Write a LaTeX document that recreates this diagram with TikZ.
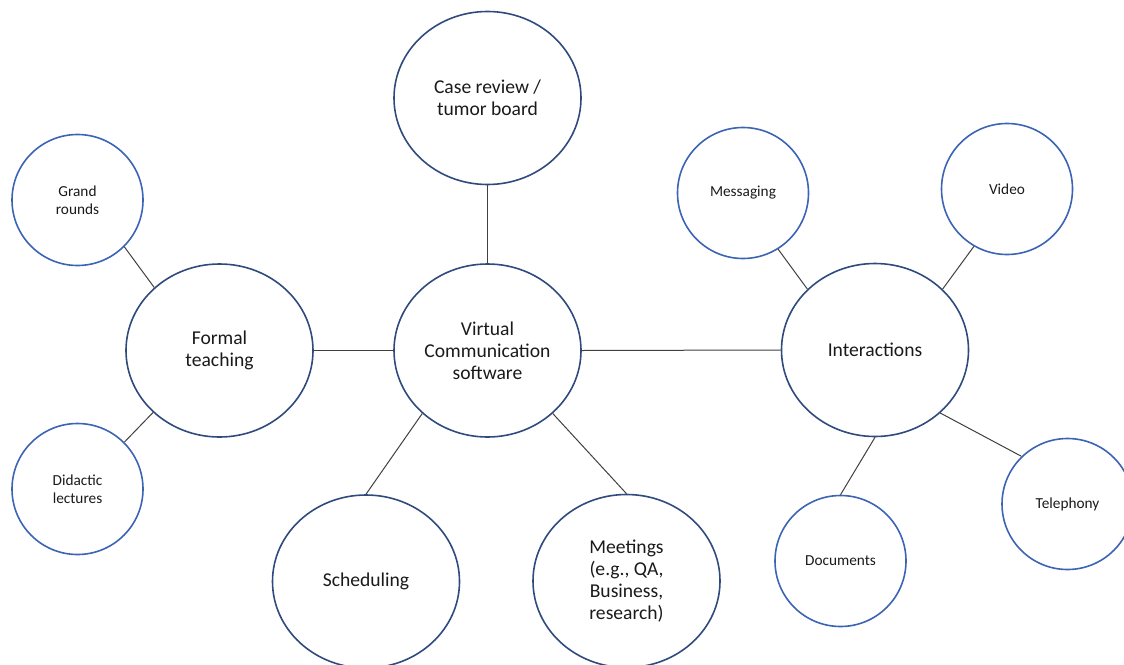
\documentclass[tikz,border=0pt]{standalone}
\usepackage{fontspec}
\setmainfont{Carlito}
\usetikzlibrary{shapes.geometric}
\definecolor{navyline}{HTML}{2F4B7E}
\definecolor{blueline}{HTML}{3C64B4}
\definecolor{linkgray}{HTML}{404040}
\definecolor{textdark}{HTML}{1A1A1A}
\tikzset{
  bigbubble/.style={ellipse, draw=navyline, line width=1.6pt, minimum width=187pt,
    minimum height=173pt, inner sep=0pt, align=center, text=textdark,
    font=\fontsize{19.6}{22}\selectfont},
  smallbubble/.style={circle, draw=blueline, line width=1.6pt, minimum size=131pt,
    inner sep=0pt, align=center, text=textdark, font=\fontsize{15.3}{18}\selectfont},
  link/.style={draw=linkgray, line width=1pt}
}
\begin{document}
\begin{tikzpicture}[x=1pt,y=-1pt]
                % Fix the page to the reference size
                \useasboundingbox (0,0) rectangle (1124,664);
                \clip (0,0) rectangle (1124,664);
                % Draw the large bubbles
                \node[bigbubble] (vcs) at (487.5,350.5) {Virtual\\Communication\\software};
                \node[bigbubble] (case) at (487.5,98) {Case review /\\tumor board};
                \node[bigbubble] (formal) at (219.5,350.5) {Formal\\teaching};
                \node[bigbubble] (inter) at (875,350) {Interactions};
                \node[bigbubble] (sched) at (366,581.5) {Scheduling};
                \node[bigbubble] (meet) at (626.5,581) {Meetings\\(e.g., QA,\\Business,\\research)};
                % Draw the small bubbles
                \node[smallbubble] (grand) at (77.5,200) {Grand\\rounds};
                \node[smallbubble] (didactic) at (77.5,489) {Didactic\\lectures};
                \node[smallbubble] (msg) at (743,193) {Messaging};
                \node[smallbubble] (video) at (1007,189) {Video};
                \node[smallbubble] (docs) at (840.5,561) {Documents};
                \node[smallbubble] (phone) at (1067.5,504) {Telephony};
                % Draw the connectors
                \draw[link] (case.south) -- (vcs.north);
                \draw[link] (formal.east) -- (vcs.west);
                \draw[link] (vcs.east) -- (inter.west);
                \draw[link] (vcs.224) -- (sched.north);
                \draw[link] (vcs.316) -- (meet.north);
                \draw[link] (grand.315) -- (formal.136);
                \draw[link] (didactic.45) -- (formal.223);
                \draw[link] (msg.302) -- (inter.138);
                \draw[link] (video.240) -- (inter.42);
                \draw[link] (inter.south) -- (docs.north);
                \draw[link] (inter.316) -- (phone.134);
            \end{tikzpicture}
\end{document}
